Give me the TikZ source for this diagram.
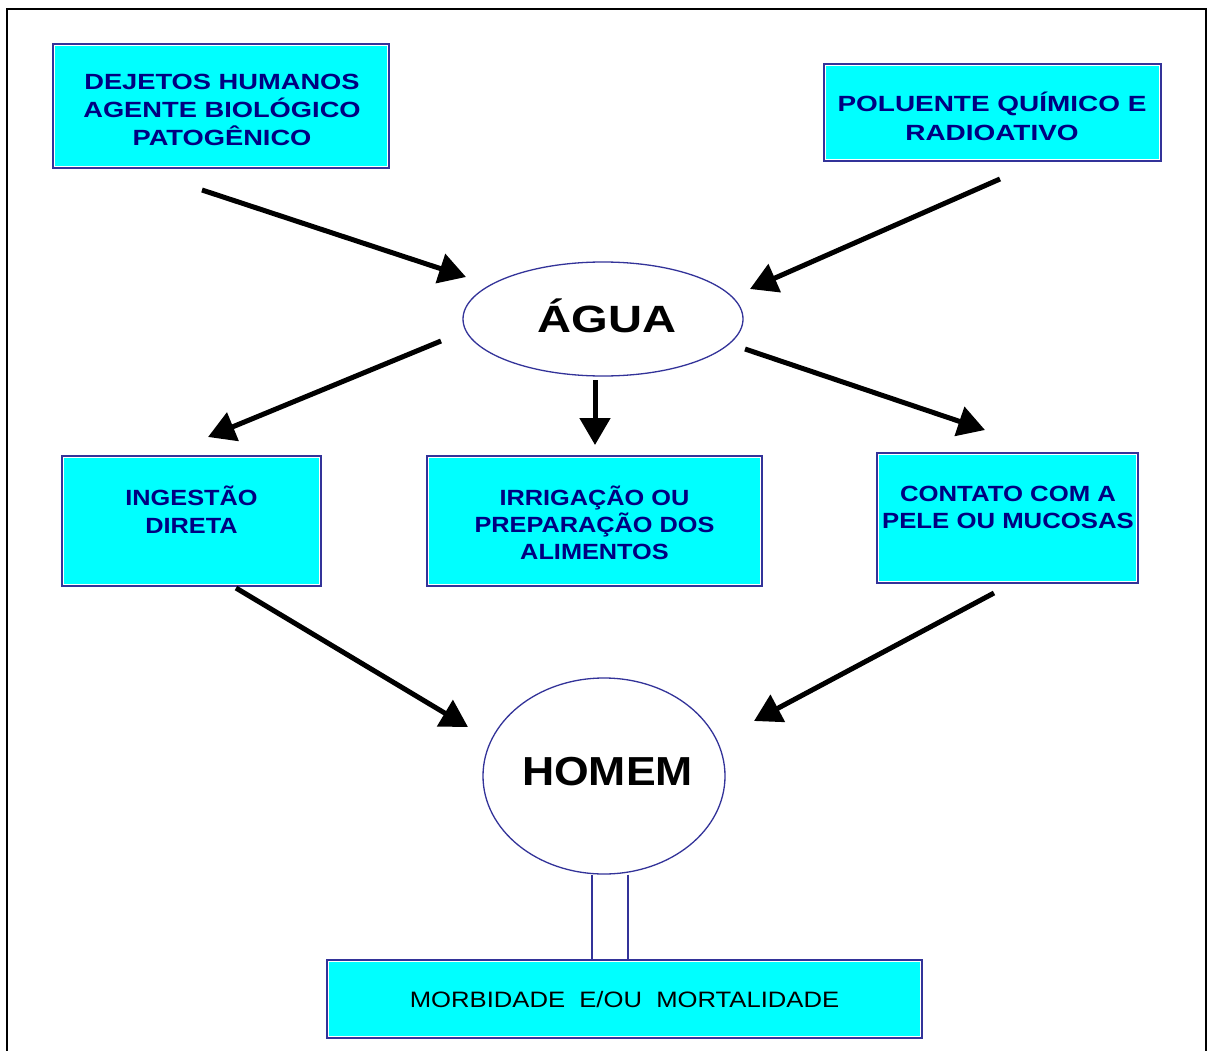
\documentclass[tikz,border=0pt]{standalone}
\usepackage{fontspec}
\setmainfont{Liberation Sans}
\usetikzlibrary{arrows.meta,shapes.geometric}
\newfontfamily\fDej[FakeStretch=1.24]{Liberation Sans}
\newfontfamily\fPol[FakeStretch=1.27]{Liberation Sans}
\newfontfamily\fIng[FakeStretch=1.15]{Liberation Sans}
\newfontfamily\fCon[FakeStretch=1.17]{Liberation Sans}
\newfontfamily\fAgua[FakeStretch=1.24]{Liberation Sans}
\newfontfamily\fHom[FakeStretch=1.1]{Liberation Sans}
\newfontfamily\fMor[FakeStretch=1.15]{Liberation Sans}
\definecolor{bordc}{HTML}{333399}
\definecolor{txtc}{HTML}{000080}
\definecolor{boxfill}{HTML}{00FFFF}
\tikzset{
  box/.style={draw=bordc, line width=1.6pt, fill=boxfill, inner sep=0pt},
  oval/.style={ellipse, draw=bordc, line width=1.3pt, fill=white, inner sep=0pt},
  lbl/.style={text=txtc, align=center, inner sep=0pt},
  arr/.style={line width=5pt, -{Triangle[length=27pt,width=30pt]}},
  twin/.style={draw=bordc, line width=1.5pt},
}
\begin{document}
\begin{tikzpicture}[x=1pt,y=-1pt]
\useasboundingbox (0,0) rectangle (1207,1051);
\fill[white] (0,0) rectangle (1207,1051);
% frame
\coordinate (fbl) at (7,1051);
\coordinate (ftl) at (7,9);
\coordinate (ftr) at (1206,9);
\coordinate (fbr) at (1206,1051);
\draw[line width=2.6pt] (fbl) -- (ftl) -- (ftr) -- (fbr);

% boxes
\node[box, minimum width=336pt, minimum height=124pt] (b1) at (221,106) {};
\node[box, minimum width=337pt, minimum height=97pt] (b2) at (992.5,112.5) {};
\node[box, minimum width=259pt, minimum height=130pt] (b4) at (191.5,521) {};
\node[box, minimum width=335pt, minimum height=130pt] (b5) at (594.5,521) {};
\node[box, minimum width=261pt, minimum height=130pt] (b6) at (1007.5,518) {};
\node[box, minimum width=595pt, minimum height=78pt] (b7) at (624.5,999) {};
\foreach \b in {b1,b2,b4,b5,b6,b7}{
  \draw[white, line width=1pt] ([xshift=2.6pt,yshift=-2.6pt]\b.north west) rectangle ([xshift=-2.6pt,yshift=2.6pt]\b.south east);
}

% ellipses
\node[oval, minimum width=280pt, minimum height=114pt] (agua) at (603,319) {};
\node[oval, minimum width=242pt, minimum height=196pt] (homem) at (604,776) {};

% texts
\node[lbl, font=\fDej\bfseries\fontsize{22}{28}\selectfont] (t1) at (222,110) {DEJETOS HUMANOS\\AGENTE BIOLÓGICO\\PATOGÊNICO};
\node[lbl, font=\fPol\bfseries\fontsize{22}{29}\selectfont] (t2) at (992,116) {POLUENTE QUÍMICO E\\RADIOATIVO};
\node[lbl, font=\fIng\bfseries\fontsize{22}{28}\selectfont] (t4) at (191.5,510) {INGESTÃO\\DIRETA};
\node[lbl, font=\fIng\bfseries\fontsize{22}{27}\selectfont] (t5) at (594.5,523) {IRRIGAÇÃO OU\\PREPARAÇÃO DOS\\ALIMENTOS};
\node[lbl, font=\fCon\bfseries\fontsize{22}{27}\selectfont] (t6) at (1008,507) {CONTATO COM A\\PELE OU MUCOSAS};
\node[inner sep=0pt, font=\fAgua\bfseries\fontsize{38}{42}\selectfont] (t3) at (607,316) {ÁGUA};
\node[inner sep=0pt, font=\fHom\bfseries\fontsize{40.5}{44}\selectfont] (t7) at (607.5,771.5) {HOMEM};
\node[inner sep=0pt, font=\fMor\fontsize{22.3}{26}\selectfont] (t8) at (624.5,1000) {MORBIDADE\ \ E/OU\ \ MORTALIDADE};

% twin connector
\coordinate (d1) at (592,957);
\coordinate (d2) at (628,957);
\draw[twin] (homem.south -| d1) -- (b7.north -| d1);
\draw[twin] (homem.south -| d2) -- (b7.north -| d2);

% arrows
\coordinate (s1) at (202,190);  \coordinate (e1) at (466,277);
\coordinate (s2) at (1000,179); \coordinate (e2) at (750,289);
\coordinate (s3) at (441,341);  \coordinate (e3) at (208,437);
\coordinate (s4) at (595,380);  \coordinate (e4) at (595,445);
\coordinate (s5) at (745,349);  \coordinate (e5) at (985,430);
\coordinate (s6) at (236,588);  \coordinate (e6) at (468,727);
\coordinate (s7) at (994,593);  \coordinate (e7) at (754,721);
\foreach \i in {1,...,7}{ \draw[arr] (s\i) -- (e\i); }
\end{tikzpicture}
\end{document}
